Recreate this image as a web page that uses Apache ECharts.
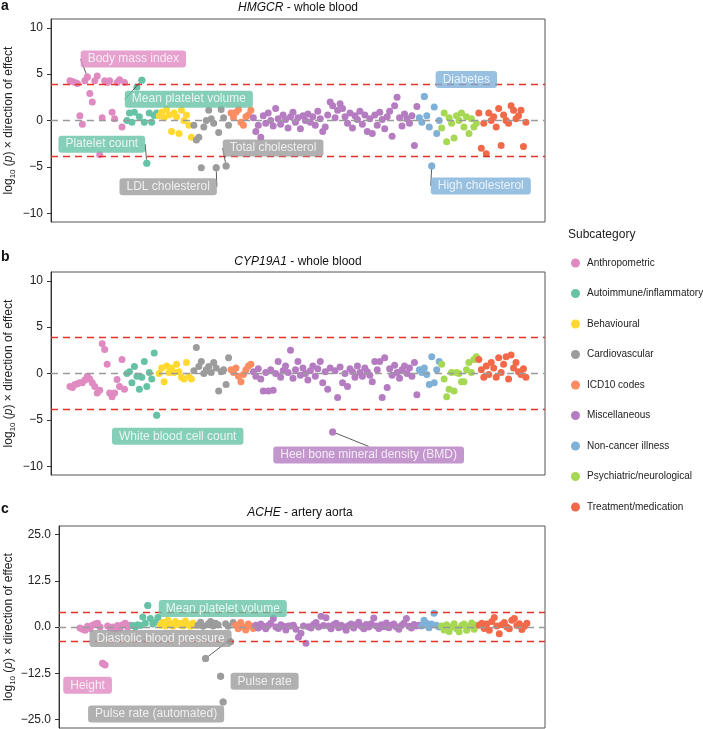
<!DOCTYPE html>
<html>
<head>
<meta charset="utf-8">
<script src="https://cdn.jsdelivr.net/npm/echarts@6/dist/echarts.min.js"></script>
<style>html,body{margin:0;padding:0;background:#fff}#c{width:703px;height:729px}</style>
</head>
<body>
<div id="c"></div>
<script>
// ---------------- DATA ----------------
const categories = ['Anthropometric','Autoimmune/inflammatory','Behavioural','Cardiovascular','ICD10 codes','Miscellaneous','Non-cancer illness','Psychiatric/neurological','Treatment/medication'];

const panelTitles = [['HMGCR',' - whole blood'],['CYP19A1',' - whole blood'],['ACHE',' - artery aorta']];
const panelLetters = ['a','b','c'];

const threshold = 3.9;
const ticksAB = [-10,-5,0,5,10];
const ticksC = [-25,-12.5,0,12.5,25];

// panel a : HMGCR - whole blood
const a_anthropometric = [4.3,4.2,4.1,4.0,0.5,-0.4,4.3,4.7,2.9,2.0,4.3,4.8,-3.7,0.3,4.3,4.1,4.3,0.9,0.2,4.1,4.4,-0.7,4.1];
const a_autoimmune = [0.0,0.8,-0.2,0.9,3.6,0.4,4.35,-0.2,-4.6,0.8,-0.2,0.55,0.8];
const a_behavioural = [0.5,0.9,0.3,1.2,0.6,-1.2,0.8,0.4,-1.4,1.1,0.0,0.6,-0.5,-1.8];
const a_cardiovascular = [-0.5,-2.1,-1.8,-5.1,-0.7,0.0,1.1,0.2,-0.3,-5.1,-1.3,1.2,0.3,-4.9,-0.5];
const a_icd10 = [0.8,0.3,0.9,1.2,-0.2,-0.5,0.4,0.6,1.1];
const a_misc = [0.3,-1.2,-0.5,-1.8,0.5,-0.3,0.8,0.0,-0.6,1.3,0.2,-0.4,0.6,0.1,-0.8,0.4,0.9,-0.2,0.3,-0.9,
  0.5,0.0,0.7,-0.2,0.4,-0.5,1.0,0.2,-1.2,-0.7,0.6,2.0,1.6,0.3,1.1,1.8,1.3,0.4,-0.3,0.8,
  -0.8,0.5,0.1,1.0,-0.4,0.6,-1.2,0.2,-1.4,0.6,-0.5,0.9,0.1,-0.9,0.4,1.0,-1.7,1.6,2.5,0.3,
  -0.6,0.7,0.2,-0.3,0.5,-2.7,1.5];
const a_noncancer = [0.3,-0.2,2.6,0.5,-0.7,-4.9,1.45,-1.4,0.0];
const a_psych = [-0.8,0.8,-2.3,0.3,-0.3,-1.9,0.5,0.0,0.8,-0.7,0.4,-1.4,0.2,-0.7,-0.3];
const a_treatment = [0.8,-3.0,-0.3,-3.6,0.8,0.0,0.4,-0.7,1.3,-2.7,0.6,0.0,-0.3,1.6,1.1,0.2,0.5,1.1,-2.8,-0.2];

// panel b : CYP19A1 - whole blood
const b_anthropometric = [-1.4,-1.5,-1.2,-1.1,-1.0,-1.0,-0.7,-0.3,-0.6,-1.0,-1.4,-2.1,-1.8,3.2,2.6,1.0,-2.1,-2.5,-2.1,-0.65,-1.4,1.5,-1.7];
const b_autoimmune = [0.0,0.2,-1.0,0.75,-0.3,-1.7,-0.4,1.3,-1.4,0.1,-0.6,2.2,-4.5];
const b_behavioural = [0.0,0.6,-0.9,0.8,0.1,0.6,0.1,1.0,0.2,-0.4,-0.6,1.2,-0.3,-0.6];
const b_cardiovascular = [0.3,2.8,0.75,1.3,0.0,0.4,0.75,0.1,1.2,0.6,-1.9,0.2,0.4,-1.2,1.7];
const b_icd10 = [0.4,0.1,0.6,-0.3,-0.9,-0.1,0.4,0.8,1.0];
const b_misc = [0.2,-0.3,0.5,-0.6,-1.9,0.1,-1.9,0.4,-1.8,0.0,1.3,-0.4,0.3,0.8,0.1,2.5,-0.5,0.4,1.3,-0.2,
  0.6,0.0,-0.7,0.3,0.8,-0.3,0.5,1.3,-1.0,0.2,-1.7,0.6,-6.3,0.3,-2.6,0.7,-1.0,0.0,-1.4,0.5,
  0.2,-0.4,0.8,0.1,-0.3,0.6,0.2,-0.2,-0.9,1.3,0.4,1.3,-2.6,1.7,-1.5,0.5,-0.2,0.9,0.1,-0.5,
  0.4,0.8,0.0,0.6,-0.3,1.2,-2.3];
const b_noncancer = [0.4,0.1,0.6,-0.1,-1.2,1.8,-1.0,0.4,1.3];
const b_psych = [1.0,-0.6,-2.5,-1.7,0.1,-1.9,0.1,0.0,-0.9,-0.9,0.4,1.2,0.1,1.5,1.8];
const b_treatment = [1.5,0.4,-0.4,0.8,-0.1,1.2,0.6,-0.4,1.7,0.1,1.0,1.8,-0.6,2.0,0.6,1.2,0.2,-0.1,0.5,-0.4];

// panel c : ACHE - artery aorta
const c_anthropometric = [-0.3,-0.6,-0.9,0.2,-0.4,0.5,0.8,1.0,0.0,-9.8,-10.3,0.3,-0.2,0.0,-0.5,0.4,-0.3,0.6,1.0,0.0,0.5];
const c_autoimmune = [0.4,0.0,0.6,0.4,2.7,1.0,5.8,2.3,0.8,1.3,2.6];
const c_behavioural = [0.5,1.2,0.3,1.8,0.8,0.2,1.5,0.6,1.0,0.3,1.6,0.7,0.2,1.1,0.4];
const c_cardiovascular = [0.5,1.3,0.2,-8.5,0.8,1.5,0.3,1.0,0.6,-13.3,-20.3,0.9,0.2,-4.0,1.2];
const c_icd10 = [0.5,-0.5,1.2,0.0,-0.8,0.8,0.3,-0.4];
const c_misc = [0.5,-0.3,0.8,0.2,-0.5,0.4,1.0,2.3,0.0,-0.4,0.6,0.2,-0.8,0.3,0.3,0.5,-0.6,-2.8,-1.7,0.3,
  -4.4,0.1,-0.3,0.7,1.2,0.0,2.9,0.4,2.5,0.3,-0.5,0.6,1.0,-0.2,0.5,0.1,-0.9,0.4,0.8,-0.3,
  0.6,1.3,0.2,-0.5,0.7,0.0,0.9,2.4,0.3,-0.4,0.6,0.1,1.1,-0.2,0.5,0.8,0.0,-0.6,0.4,1.0,
  2.3,0.2,-0.3,0.7,0.3,0.5];
const c_noncancer = [0.3,1.8,1.0,-0.2,0.8,3.7,0.5,0.0];
const c_psych = [0.3,-0.8,0.6,-1.2,0.0,0.9,-0.5,-1.3,0.4,0.8,-0.9,0.2,1.1,-0.6,0.5];
const c_treatment = [0.5,1.0,-0.4,0.8,-0.9,1.5,2.6,0.3,-1.8,0.6,1.2,0.0,-0.5,1.8,2.3,0.4,0.9,-0.7,0.2,1.0];

// labelled phenotypes: [text, category index, index within category]
const a_labels = [['Body mass index',0,7],['Mean platelet volume',1,6],['Platelet count',1,8],['LDL cholesterol',3,9],['Total cholesterol',3,13],['Diabetes',6,2],['High cholesterol',6,5]];
const b_labels = [['White blood cell count',1,12],['Heel bone mineral density (BMD)',5,32]];
const c_labels = [['Mean platelet volume',1,6],['Diastolic blood pressure',3,3],['Height',0,9],['Pulse rate',3,9],['Pulse rate (automated)',3,10]];

// ---------------- STYLE / LAYOUT ----------------
const colors = ['#E08AC2','#66C2A5','#FFD92F','#9C9C9C','#FC8D62','#B57CC2','#7EB0D8','#A6D854','#F2694A'];
const FONT = 'Liberation Sans, Arial, Helvetica, sans-serif';

// label offsets (px from the point) and whether a connector is drawn
const labelOffsets = [
  [[46,-18,true],[47,19,true],[-45,-19,true],[-48,19,true],[47,-18,true],[42,-17,false],[49,20,true]],
  [[21,21,false],[36,23,true]],
  [[75,3,false],[-45,-20,true],[-15,22,false],[44,5,false],[-67,12,false]]
];

const panels = [
  {data:[a_anthropometric,a_autoimmune,a_behavioural,a_cardiovascular,a_icd10,a_misc,a_noncancer,a_psych,a_treatment], labels:a_labels, ticks:ticksAB},
  {data:[b_anthropometric,b_autoimmune,b_behavioural,b_cardiovascular,b_icd10,b_misc,b_noncancer,b_psych,b_treatment], labels:b_labels, ticks:ticksAB},
  {data:[c_anthropometric,c_autoimmune,c_behavioural,c_cardiovascular,c_icd10,c_misc,c_noncancer,c_psych,c_treatment], labels:c_labels, ticks:ticksC}
];

const layout = [
  {left:51, top:19, width:494, height:203, xMin:-7.66, xMax:191.7, yMin:-10.95, yMax:10.95, titleX:298, titleY:8, letterY:6},
  {left:51, top:272, width:494, height:203, xMin:-7.66, xMax:191.7, yMin:-10.95, yMax:10.95, titleX:298, titleY:262, letterY:257},
  {left:59, top:526, width:486, height:202, xMin:-8.37, xMax:185.2, yMin:-27.3, yMax:27.3, titleX:300, titleY:513, letterY:509}
];

// ---------------- BUILD ----------------
const grids = [], xAxes = [], yAxes = [], series = [], graphics = [];
const yName = '{n|log}{s|10}{n| (}{i|p}{n|) × direction of effect}';
const nameRich = {
  n:{fontSize:12, fontFamily:FONT, fill:'#222', lineHeight:16},
  s:{fontSize:8, fontFamily:FONT, fill:'#222', lineHeight:16, verticalAlign:'bottom'},
  i:{fontSize:12, fontFamily:FONT, fill:'#222', lineHeight:16, fontStyle:'italic'}
};

panels.forEach((p, pi) => {
  const L = layout[pi];
  grids.push({left:L.left, top:L.top, width:L.width, height:L.height, show:true, borderColor:'#555', borderWidth:1,
    backgroundColor:'transparent', containLabel:false, outerBoundsMode:'none'});
  xAxes.push({type:'value', gridIndex:pi, min:L.xMin, max:L.xMax, axisLine:{show:false}, axisTick:{show:false}, axisLabel:{show:false}, splitLine:{show:false}});
  const isC = pi === 2;
  const fmt = v => (v < 0 ? '\u2212' : '') + (isC ? Math.abs(v).toFixed(1) : String(Math.abs(v)));
  yAxes.push({type:'value', gridIndex:pi, min:L.yMin, max:L.yMax,
    axisLine:{show:true, onZero:false, lineStyle:{color:'#333', width:1}},
    axisTick:{show:true, length:4, customValues:p.ticks, lineStyle:{color:'#333', width:1}},
    axisLabel:{show:true, customValues:p.ticks, formatter:fmt, fontSize:12, fontFamily:FONT, color:'#222', margin:8},
    splitLine:{show:false}
  });

  const starts = [];
  let idx = 0;
  p.data.forEach((vals, ci) => {
    starts.push(idx);
    const pts = vals.map((v, k) => [idx + k, v]);
    idx += vals.length;
    const s = {type:'scatter', name:categories[ci], xAxisIndex:pi, yAxisIndex:pi, data:pts, symbol:'circle', symbolSize:7,
      itemStyle:{color:colors[ci], opacity:1}, z:2, silent:true, emphasis:{disabled:true}};
    if (ci === 0) {
      s.markLine = {silent:true, symbol:'none', z:4, label:{show:false}, emphasis:{disabled:true},
        data:[
          {yAxis:threshold, lineStyle:{color:'#E4322B', width:1.4, type:[7,5]}},
          {yAxis:-threshold, lineStyle:{color:'#E4322B', width:1.4, type:[7,5]}},
          {yAxis:0, lineStyle:{color:'#9a9a9a', width:1.4, type:[7,5]}}
        ]};
    }
    series.push(s);
  });

  const offs = labelOffsets[pi];
  series.push({type:'scatter', name:'', xAxisIndex:pi, yAxisIndex:pi, z:6, silent:true, symbol:'circle', symbolSize:7,
    emphasis:{disabled:true},
    data:p.labels.map((lb, li) => {
      const ci = lb[1];
      return {value:[starts[ci] + lb[2], p.data[ci][lb[2]]],
        itemStyle:{color:colors[ci]},
        label:{show:true, position:'inside', formatter:lb[0], color:'#fff', fontSize:12, fontFamily:FONT,
          backgroundColor:colors[ci], borderRadius:3, padding:[2,7,2,7], lineHeight:13, textBorderWidth:0},
        labelLine:{show:offs[li][2], lineStyle:{color:'#333', width:0.8}}
      };
    }),
    labelLayout: params => ({dx: offs[params.dataIndex][0], dy: offs[params.dataIndex][1]})
  });

  // y-axis title, centred on the panel
  graphics.push({type:'text', x:9, y:L.top + L.height / 2, rotation:Math.PI / 2,
    style:{text:yName, align:'center', verticalAlign:'middle', rich:nameRich}});
  graphics.push({type:'text', x:L.titleX, y:L.titleY, style:{text:'{i|' + panelTitles[pi][0] + '}{n|' + panelTitles[pi][1] + '}', align:'center', verticalAlign:'middle',
    rich:{i:{fontSize:12, fontStyle:'italic', fontFamily:FONT, fill:'#111'}, n:{fontSize:12, fontFamily:FONT, fill:'#111'}}}});
  graphics.push({type:'text', x:1, y:L.letterY, style:{text:panelLetters[pi], fontSize:14, fontWeight:'bold', fontFamily:FONT, fill:'#111', verticalAlign:'middle'}});
});

graphics.push({type:'text', x:568, y:235, style:{text:'Subcategory', fontSize:12, fontFamily:FONT, fill:'#222', verticalAlign:'middle'}});

const option = {
  animation:false,
  backgroundColor:'#fff',
  grid:grids, xAxis:xAxes, yAxis:yAxes, series:series, graphic:graphics,
  legend:{data:categories, orient:'vertical', left:571, top:257, padding:0, itemWidth:9, itemHeight:9, itemGap:18.5, icon:'circle', selectedMode:false,
    textStyle:{fontSize:10, fontFamily:FONT, color:'#222', lineHeight:12, padding:[0,0,0,2]}}
};
const chart = echarts.init(document.getElementById('c'));
chart.setOption(option);
</script>
</body>
</html>
